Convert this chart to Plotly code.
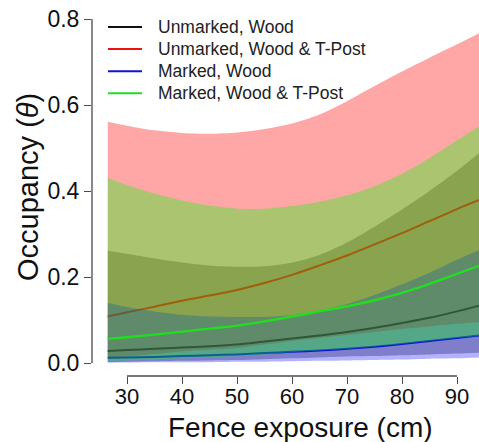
import plotly.graph_objects as go

# ---- data ----
fence_cm = [26.5, 30, 35, 40, 45, 50, 55, 60, 65, 70, 75, 80, 85, 90, 94]

unm_wood_mid = [0.028, 0.030, 0.033, 0.036, 0.039, 0.043, 0.050, 0.057, 0.064, 0.072, 0.082, 0.093, 0.105, 0.120, 0.133]
unm_wood_lo = [0.002, 0.003, 0.004, 0.005, 0.006, 0.007, 0.009, 0.011, 0.013, 0.015, 0.016, 0.018, 0.020, 0.022, 0.024]
unm_wood_hi = [0.261, 0.254, 0.243, 0.234, 0.227, 0.224, 0.225, 0.233, 0.251, 0.280, 0.317, 0.357, 0.400, 0.447, 0.488]

unm_tpost_mid = [0.108, 0.118, 0.131, 0.145, 0.157, 0.170, 0.186, 0.205, 0.227, 0.250, 0.276, 0.302, 0.330, 0.358, 0.379]
unm_tpost_lo = [0.011, 0.015, 0.021, 0.027, 0.031, 0.035, 0.043, 0.051, 0.058, 0.065, 0.072, 0.079, 0.085, 0.091, 0.095]
unm_tpost_hi = [0.561, 0.552, 0.541, 0.535, 0.533, 0.536, 0.544, 0.557, 0.578, 0.609, 0.644, 0.678, 0.710, 0.741, 0.767]

mrk_wood_mid = [0.012, 0.013, 0.014, 0.016, 0.018, 0.020, 0.023, 0.026, 0.029, 0.033, 0.038, 0.044, 0.051, 0.058, 0.064]
mrk_wood_lo = [0.001, 0.001, 0.0015, 0.002, 0.002, 0.003, 0.003, 0.004, 0.005, 0.006, 0.007, 0.008, 0.010, 0.011, 0.013]
mrk_wood_hi = [0.140, 0.130, 0.120, 0.112, 0.108, 0.107, 0.107, 0.111, 0.121, 0.137, 0.158, 0.183, 0.210, 0.240, 0.263]

mrk_tpost_mid = [0.056, 0.060, 0.066, 0.073, 0.080, 0.087, 0.097, 0.108, 0.120, 0.132, 0.146, 0.163, 0.184, 0.207, 0.226]
mrk_tpost_lo = [0.005, 0.006, 0.008, 0.011, 0.013, 0.016, 0.020, 0.025, 0.029, 0.033, 0.038, 0.044, 0.051, 0.058, 0.063]
mrk_tpost_hi = [0.430, 0.414, 0.394, 0.378, 0.366, 0.359, 0.359, 0.365, 0.375, 0.390, 0.411, 0.440, 0.477, 0.518, 0.550]

series_names = ["Unmarked, Wood", "Unmarked, Wood & T-Post", "Marked, Wood", "Marked, Wood & T-Post"]
x_ticks = [30, 40, 50, 60, 70, 80, 90]
y_ticks = [0.0, 0.2, 0.4, 0.6, 0.8]

# ---- styles ----
line_colors = ["#111111", "#ee1111", "#1111dd", "#22dd22"]
fill_colors = ["rgba(0,0,0,0.29)", "rgba(255,0,0,0.345)", "rgba(0,0,255,0.30)", "rgba(0,255,0,0.33)"]
lows = [unm_wood_lo, unm_tpost_lo, mrk_wood_lo, mrk_tpost_lo]
highs = [unm_wood_hi, unm_tpost_hi, mrk_wood_hi, mrk_tpost_hi]
mids = [unm_wood_mid, unm_tpost_mid, mrk_wood_mid, mrk_tpost_mid]

fig = go.Figure()
for i in range(4):
    fig.add_trace(go.Scatter(x=fence_cm, y=lows[i], mode="lines",
                             line=dict(width=0, shape="spline", smoothing=0.8),
                             showlegend=False, hoverinfo="skip"))
    fig.add_trace(go.Scatter(x=fence_cm, y=highs[i], mode="lines", fill="tonexty",
                             fillcolor=fill_colors[i],
                             line=dict(width=0, shape="spline", smoothing=0.8),
                             showlegend=False, hoverinfo="skip"))
    fig.add_trace(go.Scatter(x=fence_cm, y=mids[i], mode="lines", name=series_names[i],
                             line=dict(color=line_colors[i], width=2 if i != 3 else 2.4,
                                       shape="spline", smoothing=0.8),
                             showlegend=False))

# geometry
W, H = 479, 442
ml, mr, mt, mb = 92, 0, 10, 66
pw, ph = W - ml - mr, H - mt - mb
px_per_x = 5.5
px_per_y = 430.0
x0_val = 30 - (127 - ml) / px_per_x
x1_val = x0_val + pw / px_per_x
y_top_val = 0.8 + (19 - mt) / px_per_y
y_bot_val = y_top_val - ph / px_per_y

def paper_x(px):
    return (px - ml) / pw

def paper_y(py):
    return (H - mb - py) / ph

axis_col = "#4a4a4a"
font_family = "Liberation Sans, Arial, sans-serif"

shapes = [
    dict(type="line", xref="x", yref="paper", x0=x_ticks[0], x1=x_ticks[-1], y0=0, y1=0,
         line=dict(color=axis_col, width=1.3)),
    dict(type="line", xref="paper", yref="y", x0=0, x1=0, y0=y_ticks[0], y1=y_ticks[-1],
         line=dict(color=axis_col, width=1.3)),
]
annotations = []
# manual legend
for i, name in enumerate(series_names):
    py = 27 + 22.1 * i
    shapes.append(dict(type="line", xref="paper", yref="paper",
                       x0=paper_x(108), x1=paper_x(142), y0=paper_y(py), y1=paper_y(py),
                       line=dict(color=line_colors[i], width=2)))
    annotations.append(dict(text=name, xref="paper", yref="paper", x=paper_x(156), y=paper_y(py),
                            xanchor="left", yanchor="middle", showarrow=False,
                            font=dict(size=17.5, color="#222222", family=font_family)))

annotations.append(dict(text="Fence exposure (cm)", xref="paper", yref="paper",
                        x=paper_x(300), y=paper_y(427), xanchor="center", yanchor="middle",
                        showarrow=False, font=dict(size=28, color="#111111", family=font_family)))
annotations.append(dict(text="Occupancy (<i>θ</i>)", xref="paper", yref="paper",
                        x=paper_x(28), y=paper_y(187), xanchor="center", yanchor="middle",
                        textangle=-90, showarrow=False,
                        font=dict(size=29, color="#111111", family=font_family)))

fig.update_layout(
    width=W, height=H,
    margin=dict(l=ml, r=mr, t=mt, b=mb, pad=0),
    plot_bgcolor="white", paper_bgcolor="white",
    showlegend=False,
    shapes=shapes, annotations=annotations,
    font=dict(family=font_family, color="#111111"),
)
fig.update_xaxes(range=[x0_val, x1_val], tickmode="array", tickvals=x_ticks,
                 ticktext=[str(v) for v in x_ticks],
                 ticks="outside", ticklen=7, tickwidth=1.3, tickcolor=axis_col,
                 ticklabelstandoff=-6,
                 showgrid=False, zeroline=False, showline=False,
                 tickfont=dict(size=22, color="#111111"))
fig.update_yaxes(range=[y_bot_val, y_top_val], tickmode="array", tickvals=y_ticks,
                 ticktext=[f"{v:.1f}" for v in y_ticks],
                 ticks="outside", ticklen=7, tickwidth=1.3, tickcolor=axis_col,
                 showgrid=False, zeroline=False, showline=False,
                 tickfont=dict(size=23, color="#111111"))

fig.write_html("out.html", config={"displayModeBar": False},
               post_script="document.body.style.margin='0';document.body.style.padding='0';")
